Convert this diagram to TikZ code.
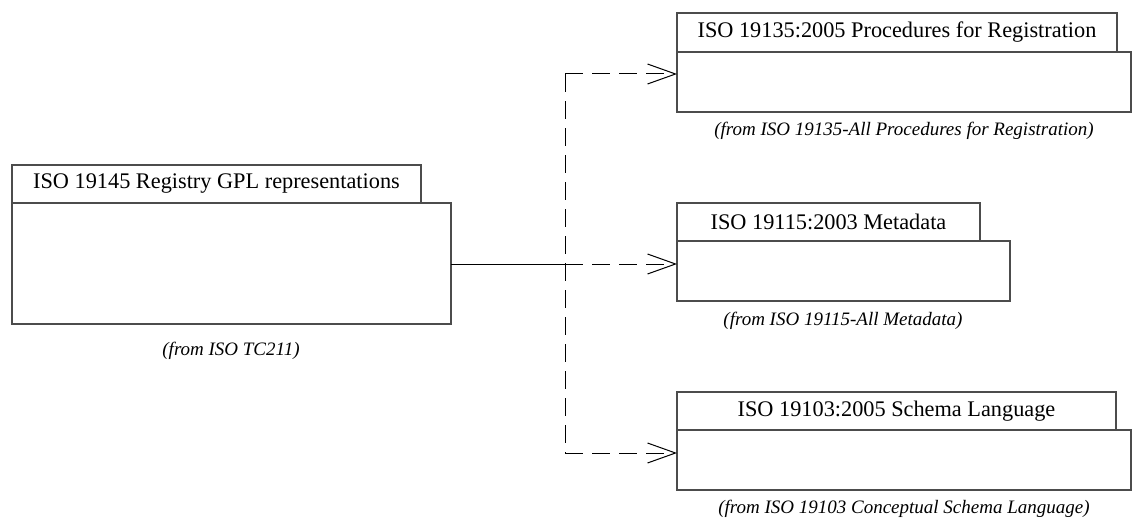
\documentclass[tikz,border=0pt]{standalone}
\usepackage{fontspec}
\setmainfont{Liberation Serif}
\usetikzlibrary{arrows.meta,calc}
\tikzset{
  box/.style={draw=black!70, line width=1.2pt, fill=white, anchor=north west, inner sep=0pt, outer sep=0pt},
  tabtext/.style={font=\fontsize{22.3}{25}\selectfont},
  from/.style={font=\fontsize{19}{22}\selectfont\itshape, inner sep=0pt},
  conn/.style={line width=1pt, draw=black},
  dep/.style={conn, dash pattern=on 18pt off 9pt, -{Straight Barb[length=28pt,width=20pt,line width=1pt]}},
}
\begin{document}
\begin{tikzpicture}[x=1pt,y=-1pt]
\useasboundingbox (0,0) rectangle (1133,519);
% left package
\node[box, minimum width=409pt, minimum height=38pt] (tab0) at (12,165) {};
\node[box, minimum width=439pt, minimum height=121pt] (body0) at (12,203) {};
\node[tabtext] at (tab0.center) {ISO 19145 Registry GPL representations};
\node[from] (lab0) at (231,351) {(from ISO TC211)};
% top package
\node[box, minimum width=440pt, minimum height=39pt] (tab1) at (677,13) {};
\node[box, minimum width=454pt, minimum height=60pt] (body1) at (677,52) {};
\node[tabtext] at (tab1.center) {ISO 19135:2005 Procedures for Registration};
\node[from] (lab1) at (904,131) {(from ISO 19135-All Procedures for Registration)};
% middle package
\node[box, minimum width=303pt, minimum height=38pt] (tab2) at (677,203) {};
\node[box, minimum width=333pt, minimum height=60pt] (body2) at (677,241) {};
\node[tabtext] at (tab2.center) {ISO 19115:2003 Metadata};
\node[from] (lab2) at (843,321) {(from ISO 19115-All Metadata)};
% bottom package
\node[box, minimum width=439pt, minimum height=38pt] (tab3) at (677,392) {};
\node[box, minimum width=454pt, minimum height=60pt] (body3) at (677,430) {};
\node[tabtext] at (tab3.center) {ISO 19103:2005 Schema Language};
\node[from] (lab3) at (904,509) {(from ISO 19103 Conceptual Schema Language)};
% connectors
\coordinate (jm) at (565,264);
\coordinate (jt) at (565,74);
\coordinate (jb) at (565,453);
\draw[conn] (body0.east |- jm) -- (jm);
\draw[dep] (jm) -- (jm -| body2.west);
\draw[conn, dash pattern=on 18pt off 9pt] (jt) -- (jb);
\draw[dep] (jt) -- (jt -| body1.west);
\draw[dep] (jb) -- (jb -| body3.west);
\end{tikzpicture}
\end{document}
